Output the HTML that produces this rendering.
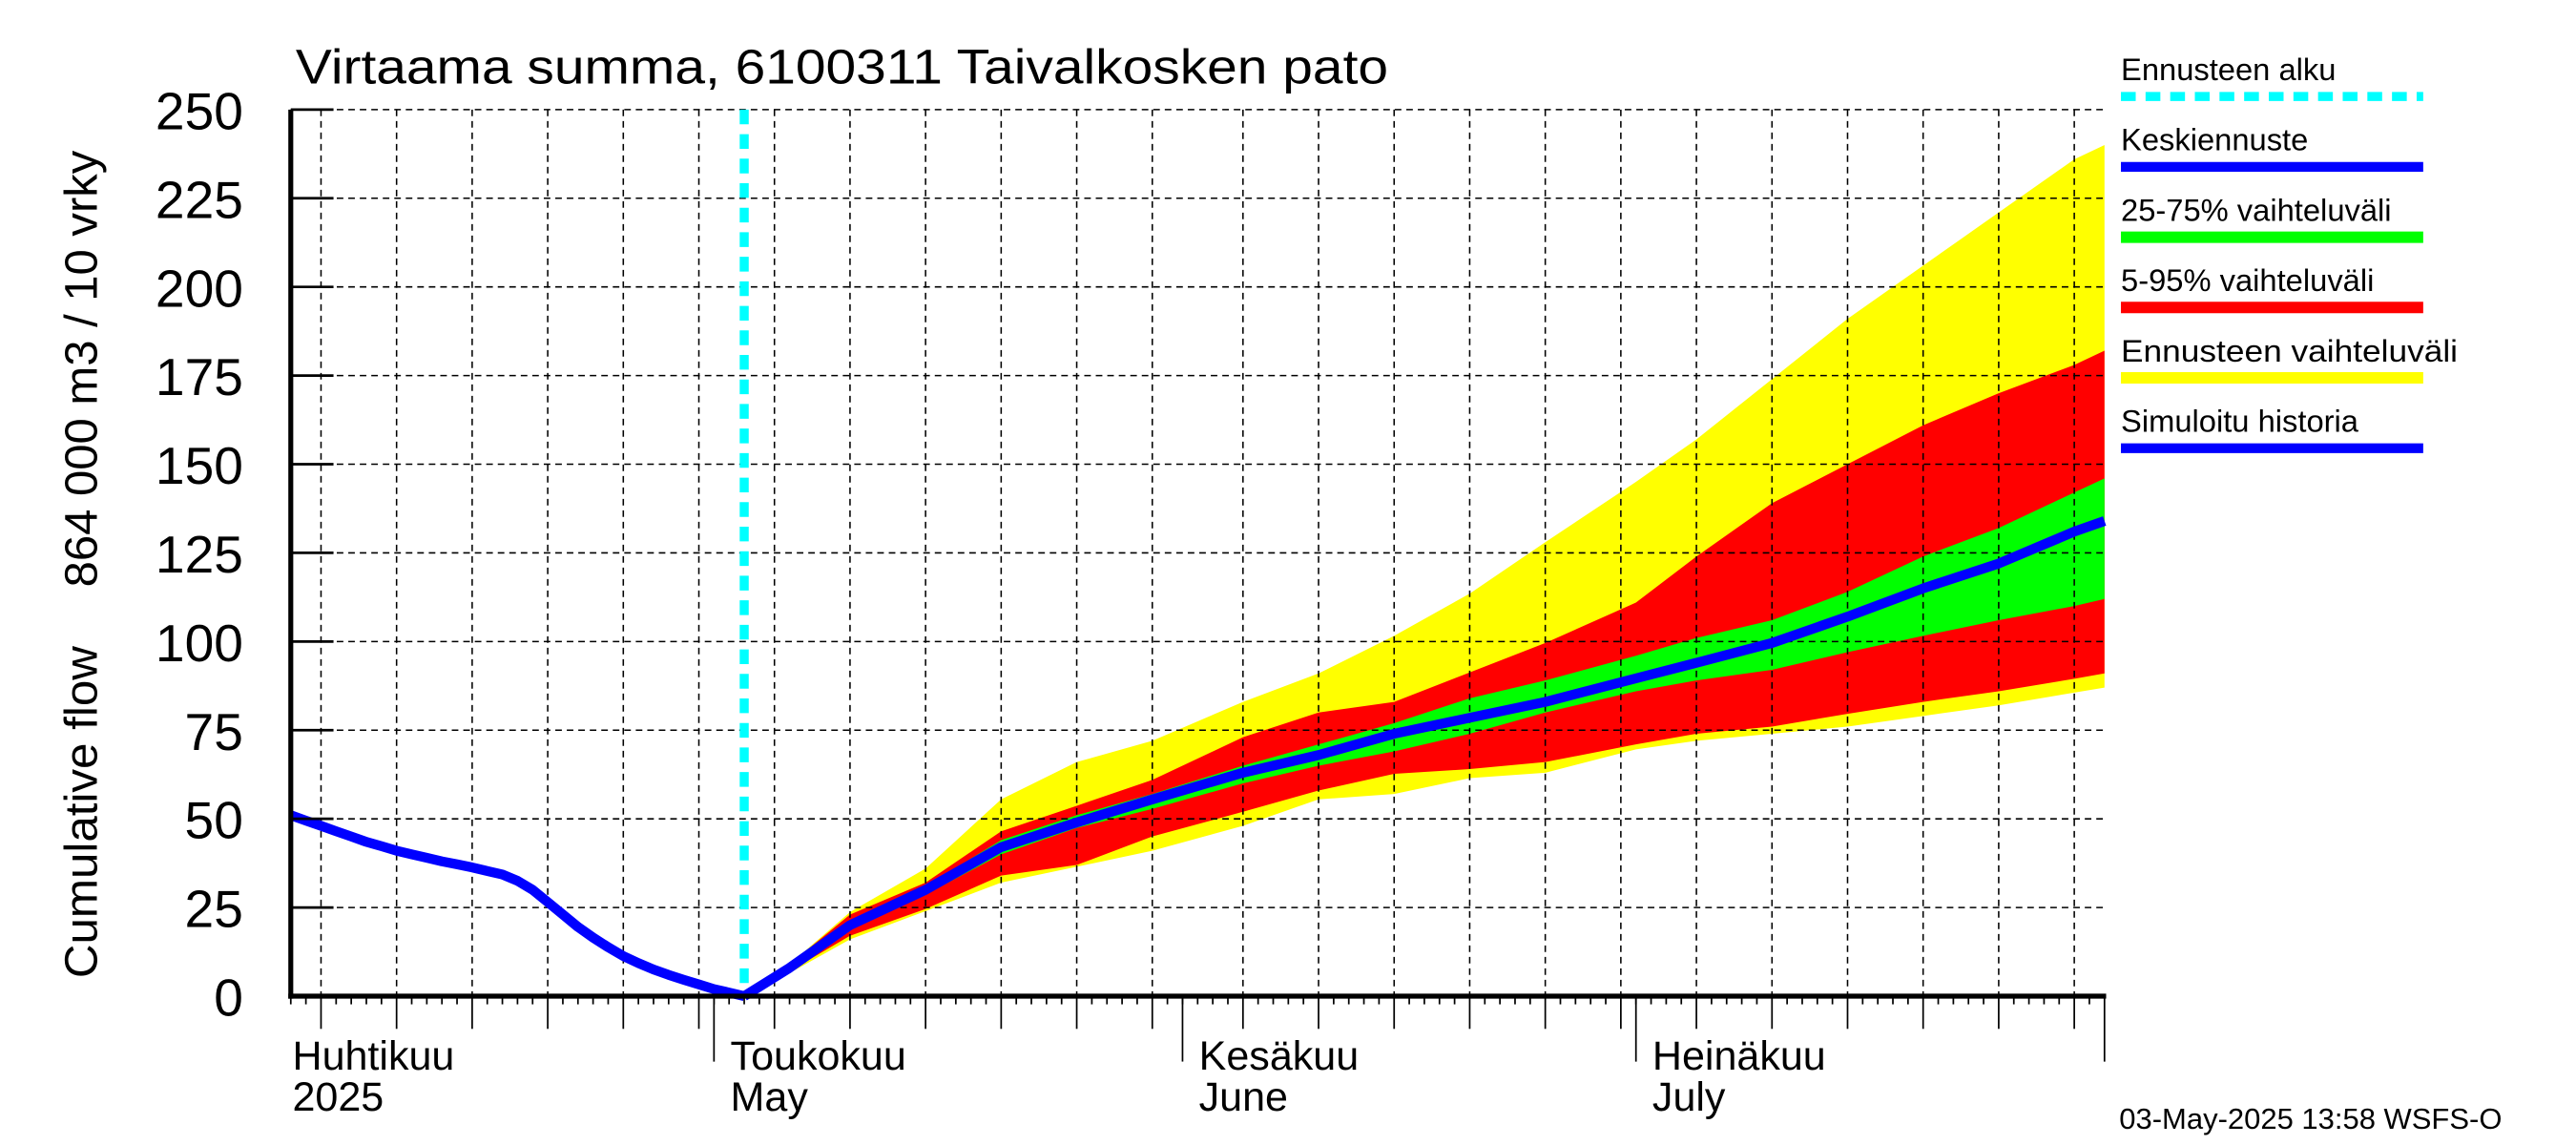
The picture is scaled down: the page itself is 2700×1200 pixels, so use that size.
<!DOCTYPE html>
<html><head><meta charset="utf-8">
<style>
html,body{margin:0;padding:0;background:#fff;}
svg{display:block;}
text{font-family:"Liberation Sans",sans-serif;fill:#000;}
</style></head>
<body>
<svg id="chart" width="2700" height="1200" viewBox="0 0 1568 700" preserveAspectRatio="none" xmlns="http://www.w3.org/2000/svg">
  <rect x="0" y="0" width="1568" height="700" fill="#fff"/>
  <g id="bands"></g>
  <g id="grid"></g>
  <g id="lines"></g>
  <g id="axes"></g>
  <text x="180" y="51" font-size="30" textLength="665" lengthAdjust="spacingAndGlyphs">Virtaama summa, 6100311 Taivalkosken pato</text>
  <text transform="translate(59,598) rotate(-90)" font-size="28" textLength="203" lengthAdjust="spacingAndGlyphs">Cumulative flow</text>
  <text transform="translate(59,359) rotate(-90)" font-size="28" textLength="267" lengthAdjust="spacingAndGlyphs">864 000 m3 / 10 vrky</text>
  <g id="legend">
    <text x="1291" y="49" font-size="19">Ennusteen alku</text>
    <line x1="1291" y1="59" x2="1475" y2="59" stroke="#00ffff" stroke-width="5.5" stroke-dasharray="9,6"/>
    <text x="1291" y="92" font-size="19">Keskiennuste</text>
    <line x1="1291" y1="102" x2="1475" y2="102" stroke="#0000ff" stroke-width="6"/>
    <text x="1291" y="135" font-size="19">25-75% vaihteluväli</text>
    <line x1="1291" y1="145" x2="1475" y2="145" stroke="#00ff00" stroke-width="7"/>
    <text x="1291" y="178" font-size="19">5-95% vaihteluväli</text>
    <line x1="1291" y1="188" x2="1475" y2="188" stroke="#ff0000" stroke-width="7"/>
    <text x="1291" y="221" font-size="19" textLength="205" lengthAdjust="spacingAndGlyphs">Ennusteen vaihteluväli</text>
    <line x1="1291" y1="231" x2="1475" y2="231" stroke="#ffff00" stroke-width="7"/>
    <text x="1291" y="264" font-size="19">Simuloitu historia</text>
    <line x1="1291" y1="274" x2="1475" y2="274" stroke="#0000ff" stroke-width="6"/>
  </g>
  <text x="1290" y="690" font-size="18">03-May-2025 13:58 WSFS-O</text>
</svg>
<script>
// ---- data (day index: 0 = 1 April 2025) ----
const histDays = [2,3,4,5,6,7,8,9,10,11,12,13,14,15,16,17,18,19,20,21,22,23,24,25,26,27,28,29,30,31,32];
const histValues = [51,49.5,48,46.5,45,43.5,42.3,41,40,39,38,37.2,36.3,35.3,34.3,32.5,30,26.5,23,19.5,16.5,13.8,11.3,9.3,7.5,6,4.6,3.3,2,1,0];
const fcDays = [32,35,39,44,49,54,59,65,70,75,80,85,91,95,100,105,110,115,120,122];
const fcMax = [0,9,23.7,36,55.5,66,72,83,91,101.6,113.5,128,145,157,174,191,206,221,236,240];
const fcP95 = [0,9,23,32,46.5,53.7,61,73,80,83,91.3,99.6,111,124,139,150,161,170,178,182];
const fcP75 = [0,8.5,21,31,44,51,57,65,71,77,84,89,96,101,106,114,124,132,142,146];
const fcMedian = [0,8,20,30,42,49,55.5,63,68,74,78.5,83,89.6,94,99.6,107,115,122,131,134];
const fcP25 = [0,7.5,19,28.6,40,47.4,52.8,60,65,69,74,80,86,89,92,97,101.6,106,110,112];
const fcP05 = [0,7,17,24.6,34,37,45,52,58,62.7,64,66,71,74,76,79.6,83,86,89.5,91];
const fcMin = [0,6.5,16,24,32,36.5,41,48,55.5,57,61.5,63,69.6,72,74,76,79,82,85.6,87];
const forecastStartDay = 32;
const yTicks = [0,25,50,75,100,125,150,175,200,225,250];
const monthStarts = [0,30,61,91,122];
const monthFi = ["Huhtikuu","Toukokuu","Kesäkuu","Heinäkuu"];
const monthEn = ["2025","May","June","July"];

// ---- axes functions ----
const X0 = 177, X1 = 1282, Y0 = 609, Y1 = 67;
const xOf = d => 158.6 + 9.2 * d;
const yOf = v => Y0 - v * (Y0 - Y1) / 250;
const NS = "http://www.w3.org/2000/svg";
function mk(tag, attrs, parent){
  const e = document.createElementNS(NS, tag);
  for (const k in attrs) e.setAttribute(k, attrs[k]);
  parent.appendChild(e);
  return e;
}
const bands = document.getElementById('bands');
const grid = document.getElementById('grid');
const lines = document.getElementById('lines');
const axes = document.getElementById('axes');

function bandPath(lo, hi){
  let p = '';
  fcDays.forEach((d,i)=>{ p += (i?'L':'M') + xOf(d).toFixed(1) + ',' + yOf(hi[i]).toFixed(1); });
  for (let i = fcDays.length-1; i >= 0; i--) p += 'L' + xOf(fcDays[i]).toFixed(1) + ',' + yOf(lo[i]).toFixed(1);
  return p + 'Z';
}
let el;
el = mk('path', {d: bandPath(fcMin, fcMax), fill: '#ffff00'}, bands);


el = mk('path', {d: bandPath(fcP05, fcP95), fill: '#ff0000'}, bands);


el = mk('path', {d: bandPath(fcP25, fcP75), fill: '#00ff00'}, bands);



// grid: horizontal
yTicks.forEach(v=>{
  if (v === 0) return;
  const g = mk('line', {x1: X0, x2: X1, y1: yOf(v), y2: yOf(v), stroke: '#000', 'stroke-width': 0.9, 'stroke-dasharray': '4,3'}, grid);
  
  
});
// grid: vertical every 5 days in month, plus ticks
for (let m = 0; m < 4; m++) {
  const start = monthStarts[m], end = monthStarts[m+1];
  for (let d = start; d < end; d++) {
    if (d < 2) continue;
    const dom = d - start + 1;
    const x = xOf(d);
    if (dom % 5 === 0) {
      const g = mk('line', {x1: x, x2: x, y1: Y1, y2: Y0, stroke: '#000', 'stroke-width': 0.9, 'stroke-dasharray': '4,3'}, grid);
      
      
      const t = mk('line', {x1: x, x2: x, y1: Y0, y2: Y0 + 20, stroke: '#000', 'stroke-width': 1}, axes);
      
      
    } else {
      const t = mk('line', {x1: x, x2: x, y1: Y0, y2: Y0 + 5, stroke: '#000', 'stroke-width': 1}, axes);
      
      
    }
  }
}
// month ticks and labels
monthStarts.forEach((d,i)=>{
  const x = xOf(d);
  if (d > 0) {
    const t = mk('line', {x1: x, x2: x, y1: Y0, y2: Y0 + 40, stroke: '#000', 'stroke-width': 1}, axes);
    
    
  }
  if (i < 4) {
    const lx = d === 0 ? 178 : x + 10;
    const a = mk('text', {x: lx, y: 654, 'font-size': 25}, axes);
    a.textContent = monthFi[i];
    
    
    const b = mk('text', {x: lx, y: 679, 'font-size': 25}, axes);
    b.textContent = monthEn[i];
    
    
  }
});
// y ticks and labels
yTicks.forEach(v=>{
  const y = yOf(v);
  const t = mk('line', {x1: X0, x2: 203, y1: y, y2: y, stroke: '#000', 'stroke-width': 1.6}, axes);
  
  
  const l = mk('text', {x: 148, y: y + 12, 'font-size': 32, 'text-anchor': 'end'}, axes);
  l.textContent = v;
  
  
});
// axis lines
el = mk('line', {x1: X0, x2: X0, y1: Y1, y2: Y0 + 1.5, stroke: '#000', 'stroke-width': 3}, axes);


el = mk('line', {x1: X0 - 1.5, x2: X1, y1: Y0, y2: Y0, stroke: '#000', 'stroke-width': 3}, axes);



// forecast start line
el = mk('line', {x1: xOf(forecastStartDay), x2: xOf(forecastStartDay), y1: Y1, y2: Y0, stroke: '#00ffff', 'stroke-width': 5.5, 'stroke-dasharray': '9,6'}, lines);



function linePath(days, vals){
  return days.map((d,i)=>(i?'L':'M') + xOf(d).toFixed(1) + ',' + yOf(vals[i]).toFixed(1)).join('');
}
el = mk('path', {d: linePath(histDays, histValues), fill: 'none', stroke: '#0000ff', 'stroke-width': 6, 'stroke-linejoin': 'round'}, lines);


el = mk('path', {d: linePath(fcDays, fcMedian), fill: 'none', stroke: '#0000ff', 'stroke-width': 6, 'stroke-linejoin': 'round'}, lines);


</script>
</body></html>
